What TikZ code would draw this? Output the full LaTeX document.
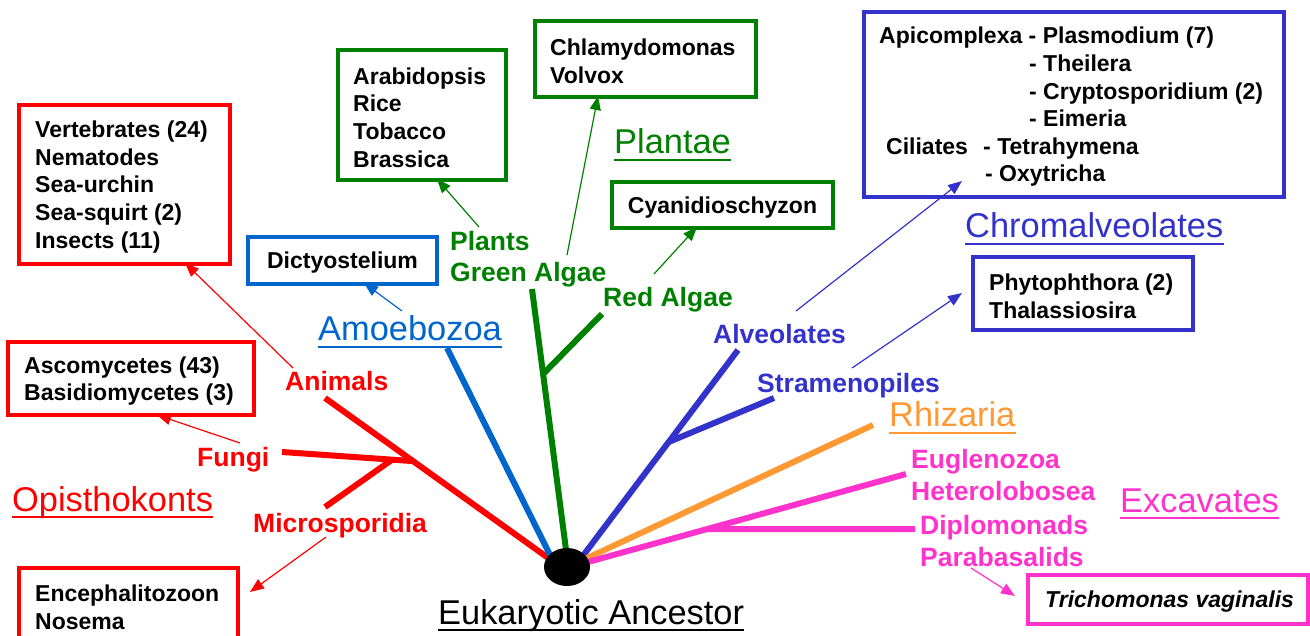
\documentclass[tikz,border=0pt]{standalone}
\usepackage{fontspec}
\setmainfont{Liberation Sans}
\usetikzlibrary{arrows.meta,shapes.geometric,backgrounds,calc}
\definecolor{cRed}{HTML}{FF0000}
\definecolor{cBlue}{HTML}{0066CC}
\definecolor{cGreen}{HTML}{008000}
\definecolor{cViolet}{HTML}{3333CC}
\definecolor{cOrange}{HTML}{FF9933}
\definecolor{cMag}{HTML}{FF33CC}
\begin{document}
\begin{tikzpicture}[x=1pt,y=-1pt,
  box/.style={draw=#1, line width=4pt, anchor=north west, inner sep=0pt},
  btxt/.style={anchor=west, align=left, inner sep=0pt, text=black, yshift=-2.5pt, font=\bfseries\fontsize{23}{27.6}\selectfont},
  blab/.style={text=#1, anchor=base west, inner sep=0pt, font=\bfseries\fontsize{26.5}{31}\selectfont},
  glab/.style={text=#1, anchor=base west, inner sep=0pt, font=\fontsize{34.4}{40}\selectfont},
  ulin/.style={draw=#1, line width=2.5pt},
  trunk/.style={draw=#1, line width=6pt},
  arr/.style={draw=#1, line width=1.2pt, -{Triangle[length=14pt,width=11pt]}}]
\useasboundingbox (0,0) rectangle (1310,636);

% ---------- boxes ----------
\node[box=cRed, minimum width=211pt, minimum height=159pt] (animbox) at (17,103) {};
\node[btxt] (animtxt) at ([xshift=18pt]animbox.west) {Vertebrates (24)\\Nematodes\\Sea-urchin\\Sea-squirt (2)\\Insects (11)};
\node[box=cRed, minimum width=246pt, minimum height=73pt] (fungibox) at (6,340) {};
\node[btxt] (fungitxt) at ([xshift=18pt]fungibox.west) {Ascomycetes (43)\\Basidiomycetes (3)};
\node[box=cRed, minimum width=219pt, minimum height=74pt] (microbox) at (17,566) {};
\node[btxt] (microtxt) at ([xshift=18pt]microbox.west) {Encephalitozoon\\Nosema};
\node[box=cBlue, minimum width=189pt, minimum height=47pt] (dictybox) at (246,235) {};
\node[btxt, anchor=center] (dictytxt) at (dictybox.center) {Dictyostelium};
\node[box=cGreen, minimum width=168pt, minimum height=130pt] (arabbox) at (336,48) {};
\node[btxt] (arabtxt) at ([xshift=17pt]arabbox.west) {Arabidopsis\\Rice\\Tobacco\\Brassica};
\node[box=cGreen, minimum width=221pt, minimum height=76pt] (chlamybox) at (533,19) {};
\node[btxt] (chlamytxt) at ([xshift=17pt]chlamybox.west) {Chlamydomonas\\Volvox};
\node[box=cGreen, minimum width=221pt, minimum height=46pt] (cyanbox) at (610,180) {};
\node[btxt, anchor=center] (cyantxt) at (cyanbox.center) {Cyanidioschyzon};
\node[box=cViolet, minimum width=420pt, minimum height=185pt] (apicbox) at (862,10) {};
\node[btxt] (apictxt) at ([xshift=17pt]apicbox.west) {Apicomplexa - Plasmodium (7)\\
\hspace*{150pt}- Theilera\\
\hspace*{150pt}- Cryptosporidium (2)\\
\hspace*{150pt}- Eimeria\\
\hspace*{7pt}\makebox[97pt][l]{Ciliates}- Tetrahymena\\
\hspace*{106pt}- Oxytricha};
\node[box=cViolet, minimum width=220pt, minimum height=73pt] (phytobox) at (971,255) {};
\node[btxt] (phytotxt) at ([xshift=18pt]phytobox.west) {Phytophthora (2)\\Thalassiosira};
\node[box=cMag, minimum width=280pt, minimum height=49pt] (trichbox) at (1026,573) {};
\node[btxt, font=\bfseries\itshape\fontsize{23}{27.6}\selectfont] (trichtxt) at ([xshift=19pt]trichbox.west) {Trichomonas vaginalis};

% ---------- group labels ----------
\node[glab=cRed] (opis) at (12,511) {Opisthokonts};
\node[glab=cBlue] (amoe) at (318,341) {Amoebozoa};
\node[glab=cGreen] (plantae) at (614,154) {Plantae};
\node[glab=cViolet] (chrom) at (965,238) {Chromalveolates};
\node[glab=cOrange] (rhiz) at (889,427) {Rhizaria};
\node[glab=cMag] (excav) at (1120,512) {Excavates};
\node[glab=black] (ances) at (438,624) {Eukaryotic Ancestor};
\foreach \n/\c in {opis/cRed, amoe/cBlue, plantae/cGreen, chrom/cViolet, rhiz/cOrange, excav/cMag, ances/black}
  \draw[ulin=\c] ([yshift=-6pt]\n.base west) -- ([yshift=-6pt]\n.base east);

% ---------- branch labels ----------
\node[blab=cRed] (animals) at (285,391) {Animals};
\node[blab=cRed] (fungi) at (197,466) {Fungi};
\node[blab=cRed] (micro) at (253,532) {Microsporidia};
\node[blab=cGreen] (plants) at (450,251) {Plants};
\node[blab=cGreen] (greenalg) at (450,282) {Green Algae};
\node[blab=cGreen] (redalg) at (603,307) {Red Algae};
\node[blab=cViolet] (alveo) at (713,344) {Alveolates};
\node[blab=cViolet] (strame) at (757,392) {Stramenopiles};
\node[blab=cMag] (eugle) at (911,468) {Euglenozoa};
\node[blab=cMag] (hetero) at (911,500) {Heterolobosea};
\node[blab=cMag] (diplo) at (920,534) {Diplomonads};
\node[blab=cMag] (parab) at (920,566) {Parabasalids};

% ---------- tree ----------
\node[ellipse, fill=black, minimum width=46pt, minimum height=38pt, inner sep=0pt] (root) at (567,567) {};
\coordinate (rEnd) at (325,398);
\coordinate (fEnd) at (282,452);
\coordinate (mEnd) at (325,507);
\coordinate (bEnd) at (447,348);
\coordinate (gEnd) at (532,289);
\coordinate (raEnd) at (602,314);
\coordinate (vEnd) at (738,350);
\coordinate (sEnd) at (774,398);
\coordinate (oEnd) at (873,425);
\coordinate (pEnd) at (906,474);
\coordinate (dEnd) at (915,529);
\coordinate (rS) at ($(root.center)+(-9,-2)$);
\coordinate (bS) at ($(root.center)+(-12,-2)$);
\coordinate (gS) at ($(root.center)+(1,-2)$);
\coordinate (vS) at ($(root.center)+(9,-2)$);
\coordinate (oS) at ($(root.center)+(3,-1)$);
\coordinate (pS) at ($(root.center)+(3,0)$);
\coordinate (rJ) at ($(rS)!0.622!(rEnd)$);
\coordinate (mJ) at ($(rJ)!0.16!(fEnd)$);
\coordinate (gJ) at ($(gS)!0.692!(gEnd)$);
\coordinate (vJ) at ($(vS)!0.572!(vEnd)$);
\coordinate (pJ) at ($(pS)!0.408!(pEnd)$);
\begin{scope}[on background layer]
  \draw[trunk=cRed] (rS) -- (rEnd);
  \draw[trunk=cRed] (rJ) -- (fEnd);
  \draw[trunk=cRed] (mJ) -- (mEnd);
  \draw[trunk=cBlue] (bS) -- (bEnd);
  \draw[trunk=cGreen] (gS) -- (gEnd);
  \draw[trunk=cGreen] (gJ) -- (raEnd);
  \draw[trunk=cViolet] (vS) -- (vEnd);
  \draw[trunk=cViolet] (vJ) -- (sEnd);
  \draw[trunk=cOrange] (oS) -- (oEnd);
  \draw[trunk=cMag] (pS) -- (pEnd);
  \draw[trunk=cMag] (pJ) -- (dEnd);
\end{scope}

% ---------- arrows ----------
\coordinate (aT) at (293,368);   \coordinate (aH) at (185,263);
\coordinate (fT) at (240,443);   \coordinate (fH) at (157,415);
\coordinate (mT) at (326,537);   \coordinate (mH) at (250,592);
\coordinate (dT) at (402,311);   \coordinate (dH) at (364,283);
\coordinate (plT) at (479,227);  \coordinate (plH) at (437,179);
\coordinate (gaT) at (567,255);  \coordinate (gaH) at (598,96);
\coordinate (raT) at (654,274);  \coordinate (raH) at (697,227);
\coordinate (alT) at (796,311);  \coordinate (alH) at (962,181);
\coordinate (stT) at (852,368);  \coordinate (stH) at (962,293);
\coordinate (paT) at (971,568);  \coordinate (paH) at (1015,596);
\draw[arr=cRed] (aT) -- (aH);
\draw[arr=cRed] (fT) -- (fH);
\draw[arr=cRed] (mT) -- (mH);
\draw[arr=cBlue] (dT) -- (dH);
\draw[arr=cGreen] (plT) -- (plH);
\draw[arr=cGreen] (gaT) -- (gaH);
\draw[arr=cGreen] (raT) -- (raH);
\draw[arr=cViolet] (alT) -- (alH);
\draw[arr=cViolet] (stT) -- (stH);
\draw[arr=cMag] (paT) -- (paH);
\end{tikzpicture}
\end{document}
